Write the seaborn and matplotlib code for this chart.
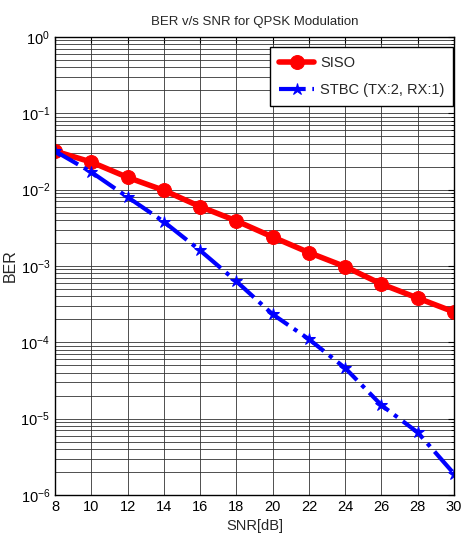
import numpy as np
import pandas as pd
import matplotlib
matplotlib.use('Agg')
import matplotlib.pyplot as plt
import seaborn as sns
from matplotlib.ticker import LogLocator, NullFormatter

# values
snr = [8, 10, 12, 14, 16, 18, 20, 22, 24, 26, 28, 30]
ber_siso = [0.032, 0.023, 0.0145, 0.0098, 0.006, 0.0039, 0.0024, 0.0015,
            0.00098, 0.00058, 0.00038, 0.00025]
ber_stbc = [0.032, 0.017, 0.008, 0.0038, 0.0016, 0.00063, 0.000233, 0.00011,
            4.6e-5, 1.5e-5, 6.6e-6, 1.9e-6]
labels = ['SISO', 'STBC (TX:2, RX:1)']
yticks = [1e-6, 1e-5, 1e-4, 1e-3, 1e-2, 1e-1, 1]

sns.set_style('white')
plt.rcParams['font.family'] = ['Liberation Sans', 'DejaVu Sans']
plt.rcParams['axes.unicode_minus'] = False

df = pd.DataFrame({
    'SNR': snr * 2,
    'BER': ber_siso + ber_stbc,
    'scheme': [labels[0]] * len(snr) + [labels[1]] * len(snr),
})

W, H = 464, 542
fig = plt.figure(figsize=(W / 100, H / 100), dpi=100)
# axes box in pixels: left 55, right 454, top 37, bottom 495
ax = fig.add_axes([55 / W, 1 - 495 / H, (454 - 55) / W, (495 - 37) / H])

sns.lineplot(data=df[df.scheme == labels[0]], x='SNR', y='BER', ax=ax,
             color='red', linewidth=4, marker='o', markersize=10,
             markeredgecolor='red', label=labels[0])
sns.lineplot(data=df[df.scheme == labels[1]], x='SNR', y='BER', ax=ax,
             color='blue', linewidth=3, linestyle='-.', marker='*', markersize=9,
             markeredgecolor='blue', label=labels[1])

ax.set_yscale('log')
ax.set_xlim(8, 30)
ax.set_ylim(1e-6, 1)
ax.set_xticks(range(8, 31, 2))
ax.set_yticks(yticks)
ax.yaxis.set_minor_locator(LogLocator(base=10, subs=np.arange(2, 10), numticks=10))
ax.yaxis.set_minor_formatter(NullFormatter())

ax.grid(True, which='major', axis='both', color='#333333', linewidth=0.6)
ax.grid(True, which='minor', axis='y', color='#333333', linewidth=0.6)
ax.tick_params(which='both', direction='in', top=True, right=True,
               labelsize=10.5, colors='black')
ax.tick_params(which='major', length=4)
ax.tick_params(which='minor', length=2)
for s in ax.spines.values():
    s.set_color('black')
    s.set_linewidth(1)

ax.set_title('BER v/s SNR for QPSK Modulation', fontsize=9.5, pad=9)
ax.set_xlabel('SNR[dB]', fontsize=10.5)
ax.set_ylabel('BER', fontsize=11.5, labelpad=2)

leg = ax.legend(loc='upper right', bbox_to_anchor=(453 / W, 1 - 47 / H),
                bbox_transform=fig.transFigure, borderaxespad=0,
                fontsize=10.5, frameon=True, fancybox=False,
                edgecolor='black', framealpha=1, handlelength=2.4,
                labelspacing=0.9, handletextpad=0.4, borderpad=0.6)
leg.get_frame().set_linewidth(1)

fig.savefig('out.png', dpi=100)
